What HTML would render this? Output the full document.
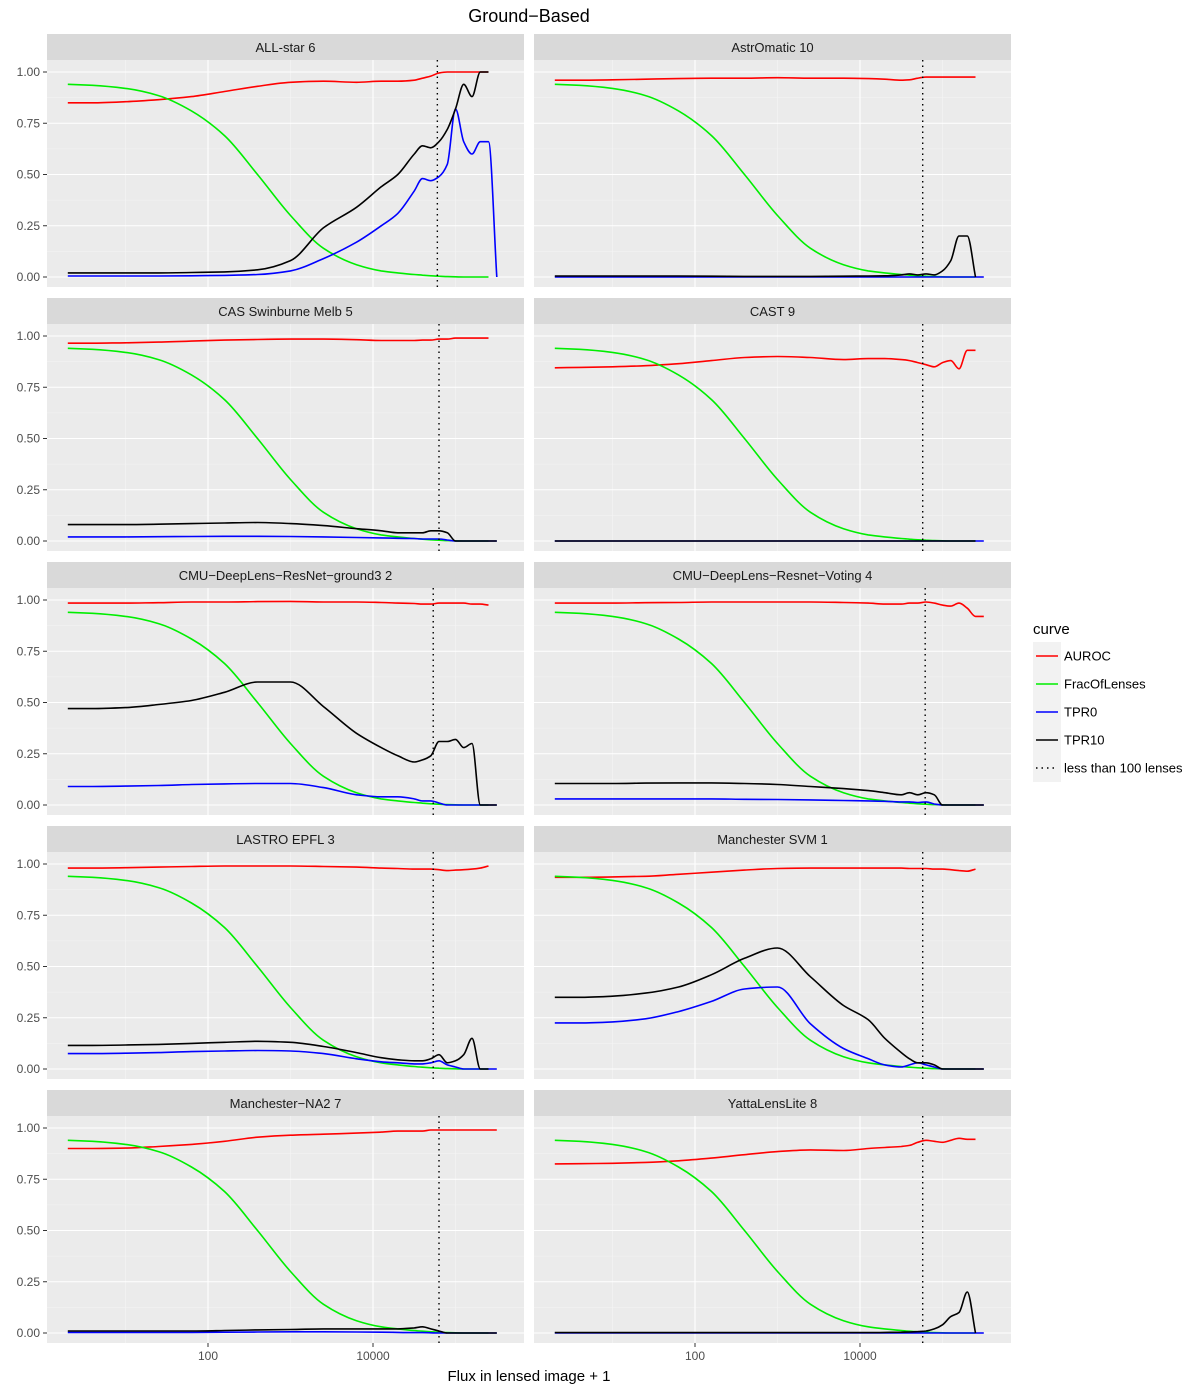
<!DOCTYPE html>
<html><head><meta charset="utf-8"><style>
body{margin:0;background:#fff;}
svg{display:block;font-family:"Liberation Sans",Arial,sans-serif;}
</style></head><body>
<svg id="chart" width="1200" height="1387" viewBox="0 0 1200 1387"></svg>
<script>
// shared x grid: log10(flux + 1)
const logFlux=[0.3,0.6,1,1.4,1.8,2.2,2.6,3,3.4,3.8,4.1,4.3,4.5,4.6,4.7,4.8,4.9,5.0,5.1,5.2,5.3,5.4,5.5];
const fracOfLenses=[0.94,0.935,0.92,0.885,0.81,0.69,0.50,0.30,0.14,0.06,0.03,0.02,0.012,0.009,0.006,0.004,0.002,0.001,0,0,0,0,null];
const panelNames=["ALL-star 6","AstrOmatic 10","CAS Swinburne Melb 5","CAST 9","CMU−DeepLens−ResNet−ground3 2","CMU−DeepLens−Resnet−Voting 4","LASTRO EPFL 3","Manchester SVM 1","Manchester−NA2 7","YattaLensLite 8"];
const cutoffLog=[4.78,4.76,4.8,4.76,4.73,4.79,4.73,4.76,4.8,4.76];
const auroc=[
[0.85,0.85,0.855,0.865,0.88,0.905,0.93,0.95,0.955,0.95,0.955,0.955,0.96,0.97,0.98,0.995,1,1,1,1,1,1,null],
[0.96,0.96,0.962,0.965,0.968,0.97,0.97,0.972,0.97,0.97,0.968,0.965,0.96,0.962,0.97,0.975,0.975,0.975,0.975,0.975,0.975,0.975,null],
[0.965,0.965,0.967,0.97,0.975,0.98,0.983,0.985,0.985,0.982,0.978,0.978,0.978,0.98,0.98,0.985,0.985,0.99,0.99,0.99,0.99,0.99,null],
[0.845,0.847,0.85,0.855,0.865,0.88,0.895,0.9,0.895,0.885,0.89,0.89,0.885,0.88,0.87,0.86,0.85,0.87,0.88,0.84,0.93,0.93,null],
[0.985,0.985,0.985,0.987,0.99,0.99,0.992,0.993,0.99,0.99,0.988,0.985,0.983,0.98,0.98,0.985,0.985,0.985,0.985,0.98,0.98,0.975,null],
[0.985,0.985,0.985,0.987,0.988,0.99,0.99,0.99,0.99,0.988,0.985,0.98,0.98,0.985,0.985,0.99,0.985,0.975,0.97,0.985,0.96,0.92,0.92],
[0.98,0.98,0.982,0.985,0.988,0.99,0.99,0.99,0.988,0.985,0.98,0.978,0.975,0.975,0.975,0.972,0.968,0.97,0.972,0.975,0.98,0.99,null],
[0.935,0.935,0.937,0.94,0.95,0.96,0.97,0.978,0.98,0.98,0.98,0.98,0.98,0.978,0.978,0.978,0.975,0.975,0.972,0.968,0.965,0.975,null],
[0.9,0.9,0.902,0.91,0.92,0.935,0.955,0.965,0.97,0.975,0.98,0.985,0.985,0.985,0.99,0.99,0.99,0.99,0.99,0.99,0.99,0.99,0.99],
[0.825,0.826,0.828,0.832,0.84,0.853,0.87,0.885,0.893,0.89,0.9,0.905,0.91,0.915,0.93,0.94,0.935,0.93,0.94,0.95,0.945,0.945,null]];
const tpr10=[
[0.02,0.02,0.02,0.02,0.022,0.025,0.035,0.08,0.24,0.34,0.44,0.5,0.6,0.64,0.63,0.66,0.72,0.82,0.94,0.88,1,1,null],
[0.005,0.005,0.005,0.005,0.005,0.004,0.003,0.003,0.003,0.004,0.005,0.006,0.01,0.015,0.01,0.015,0.01,0.03,0.08,0.2,0.2,0,null],
[0.08,0.08,0.08,0.082,0.085,0.088,0.09,0.085,0.075,0.06,0.05,0.04,0.04,0.04,0.05,0.05,0.04,0,0,0,0,0,0],
[0,0,0,0,0,0,0,0,0,0,0,0,0,0,0,0,0,0,0,0,0,0,null],
[0.47,0.47,0.475,0.49,0.51,0.55,0.60,0.60,0.48,0.35,0.28,0.24,0.21,0.22,0.24,0.31,0.31,0.32,0.28,0.30,0,0,0],
[0.105,0.105,0.105,0.107,0.108,0.108,0.105,0.1,0.09,0.08,0.07,0.06,0.05,0.06,0.05,0.06,0.05,0,0,0,0,0,0],
[0.115,0.115,0.117,0.12,0.125,0.13,0.135,0.13,0.11,0.08,0.055,0.045,0.04,0.04,0.05,0.07,0.03,0.04,0.07,0.15,0,0,null],
[0.35,0.35,0.355,0.37,0.40,0.46,0.54,0.59,0.45,0.31,0.24,0.15,0.08,0.05,0.03,0.03,0.02,0,0,0,0,0,0],
[0.01,0.01,0.01,0.01,0.01,0.012,0.015,0.017,0.02,0.02,0.02,0.02,0.025,0.03,0.02,0.01,0,0,0,0,0,0,0],
[0.002,0.002,0.002,0.002,0.002,0.002,0.002,0.002,0.002,0.002,0.002,0.003,0.004,0.005,0.007,0.01,0.02,0.04,0.08,0.1,0.2,0,null]];
const tpr0=[
[0.005,0.005,0.005,0.005,0.006,0.008,0.012,0.03,0.09,0.17,0.25,0.31,0.42,0.48,0.47,0.49,0.55,0.82,0.66,0.6,0.66,0.66,0],
[0,0,0,0,0,0,0,0,0,0,0,0,0,0,0,0,0,0,0,0,0,0,0],
[0.02,0.02,0.02,0.021,0.022,0.023,0.023,0.022,0.02,0.017,0.015,0.013,0.012,0.01,0.01,0.01,0.005,0,0,0,0,0,0],
[0,0,0,0,0,0,0,0,0,0,0,0,0,0,0,0,0,0,0,0,0,0,0],
[0.09,0.09,0.092,0.095,0.1,0.103,0.105,0.105,0.085,0.05,0.04,0.04,0.03,0.02,0.02,0.01,0,0,0,0,0,0,0],
[0.03,0.03,0.03,0.03,0.03,0.03,0.028,0.027,0.025,0.022,0.02,0.018,0.015,0.015,0.012,0.015,0.005,0,0,0,0,0,0],
[0.075,0.075,0.077,0.08,0.085,0.088,0.09,0.088,0.075,0.05,0.035,0.03,0.025,0.025,0.03,0.04,0.02,0.01,0,0,0,0,0],
[0.225,0.225,0.23,0.245,0.28,0.33,0.39,0.40,0.22,0.10,0.05,0.02,0.01,0.02,0.03,0.02,0.01,0,0,0,0,0,0],
[0.003,0.003,0.003,0.003,0.003,0.004,0.005,0.006,0.006,0.005,0.004,0.003,0.002,0.002,0.001,0,0,0,0,0,0,0,0],
[0,0,0,0,0,0,0,0,0,0,0,0,0,0,0,0,0,0,0,0,0,0,0]];
const yTicks=[0,0.25,0.5,0.75,1];
const yTickLabels=["0.00","0.25","0.50","0.75","1.00"];
const xTicks=[2,4];
const xTickLabels=["100","10000"];
const legendLabels=["AUROC","FracOfLenses","TPR0","TPR10","less than 100 lenses"];
const seriesColors=["#FF0000","#00EE00","#0000FF","#000000"];

const NS="http://www.w3.org/2000/svg";
const svg=document.getElementById('chart');
function mk(tag,attrs,parent,text){const e=document.createElementNS(NS,tag);for(const k in attrs)e.setAttribute(k,attrs[k]);if(text!==undefined)e.textContent=text;(parent||svg).appendChild(e);return e;}

// monotone cubic path (Fritsch-Carlson)
function monoPath(pts){
  const n=pts.length; if(n<2)return '';
  const dx=[],s=[];
  for(let i=0;i<n-1;i++){dx[i]=pts[i+1][0]-pts[i][0];s[i]=(pts[i+1][1]-pts[i][1])/dx[i];}
  const m=[s[0]];
  for(let i=1;i<n-1;i++){ if(s[i-1]*s[i]<=0)m[i]=0; else {const w1=2*dx[i]+dx[i-1],w2=dx[i]+2*dx[i-1];m[i]=(w1+w2)/(w1/s[i-1]+w2/s[i]);} }
  m[n-1]=s[n-2];
  let d='M'+pts[0][0].toFixed(1)+','+pts[0][1].toFixed(1);
  for(let i=0;i<n-1;i++){
    const h=dx[i]/3;
    d+='C'+(pts[i][0]+h).toFixed(1)+','+(pts[i][1]+m[i]*h).toFixed(1)+' '+(pts[i+1][0]-h).toFixed(1)+','+(pts[i+1][1]-m[i+1]*h).toFixed(1)+' '+pts[i+1][0].toFixed(1)+','+pts[i+1][1].toFixed(1);
  }
  return d;
}

const colX=[47,534], panelW=477, plotH=227, stripH=26;
function xScale(col,l){return colX[col]-4+82.5*l;}
function yScale(row,v){return 60+264*row+12+(1-v)*205;}

let t=mk('text',{x:529,y:22,'text-anchor':'middle','font-size':18,fill:'#000'},svg,'Ground−Based');



for(let p=0;p<10;p++){
  const row=Math.floor(p/2), col=p%2;
  const g=mk('g',{});
  
  
  const x0=colX[col], top=34+264*row, pt=top+stripH;
  const strip=mk('rect',{x:x0,y:top,width:panelW,height:stripH,fill:'#D9D9D9'},g);
  
  
  const st=mk('text',{x:x0+panelW/2,y:top+18,'text-anchor':'middle','font-size':13,fill:'#1A1A1A'},g,panelNames[p]);
  
  
  const bg=mk('rect',{x:x0,y:pt,width:panelW,height:plotH,fill:'#EBEBEB'},g);
  
  
  for(let i=0;i<4;i++){const v=0.125+0.25*i;mk('line',{x1:x0,x2:x0+panelW,y1:yScale(row,v),y2:yScale(row,v),stroke:'#F5F5F5','stroke-width':0.6},g);}
  [1,3,5].forEach(l=>mk('line',{x1:xScale(col,l),x2:xScale(col,l),y1:pt,y2:pt+plotH,stroke:'#F5F5F5','stroke-width':0.6},g));
  yTicks.forEach(v=>mk('line',{x1:x0,x2:x0+panelW,y1:yScale(row,v),y2:yScale(row,v),stroke:'#fff','stroke-width':1.1},g));
  xTicks.forEach(l=>mk('line',{x1:xScale(col,l),x2:xScale(col,l),y1:pt,y2:pt+plotH,stroke:'#fff','stroke-width':1.1},g));
  if(col===0){
    yTicks.forEach((v,i)=>{
      mk('line',{x1:x0-4,x2:x0,y1:yScale(row,v),y2:yScale(row,v),stroke:'#333','stroke-width':1},g);
      const tl=mk('text',{x:x0-7,y:yScale(row,v)+4,'text-anchor':'end','font-size':12,fill:'#4D4D4D'},g,yTickLabels[i]);
      
      
    });
  }
  if(row===4){
    xTicks.forEach((l,i)=>{
      mk('line',{x1:xScale(col,l),x2:xScale(col,l),y1:pt+plotH,y2:pt+plotH+4,stroke:'#333','stroke-width':1},g);
      const tl=mk('text',{x:xScale(col,l),y:pt+plotH+17,'text-anchor':'middle','font-size':12,fill:'#4D4D4D'},g,xTickLabels[i]);
      
      
    });
  }
  const series=[auroc[p],fracOfLenses,tpr0[p],tpr10[p]];
  const sNames=['auroc-line','frac-of-lenses-line','tpr0-line','tpr10-line'];
  series.forEach((arr,si)=>{
    const pts=[];
    arr.forEach((v,i)=>{if(v===null)return;pts.push([xScale(col,logFlux[i]),yScale(row,v)]);});
    const pth=mk('path',{d:monoPath(pts),fill:'none',stroke:seriesColors[si],'stroke-width':1.6,'stroke-linejoin':'round'},g);
    
    
  });
  const cx=xScale(col,cutoffLog[p]);
  const vl=mk('line',{x1:cx,x2:cx,y1:pt,y2:pt+plotH,stroke:'#000','stroke-width':1.4,'stroke-dasharray':'1.5,4'},g);
  
  
}
let xt=mk('text',{x:529,y:1381,'text-anchor':'middle','font-size':15,fill:'#000'},svg,'Flux in lensed image + 1');



const lg=mk('g',{});


const lt=mk('text',{x:1033,y:634,'font-size':15,fill:'#000'},lg,'curve');


legendLabels.forEach((lab,i)=>{
  const cy=656+28*i;
  const e=mk('g',{},lg);
  
  
  mk('rect',{x:1033,y:cy-14,width:28,height:28,fill:'#F2F2F2'},e);
  const attrs={x1:1036,x2:1058,y1:cy,y2:cy,stroke:i<4?seriesColors[i]:'#000','stroke-width':1.6};
  if(i===4)attrs['stroke-dasharray']='1.5,4';
  mk('line',attrs,e);
  mk('text',{x:1064,y:cy+4.5,'font-size':13,fill:'#000'},e,lab);
});
</script>
</body></html>
